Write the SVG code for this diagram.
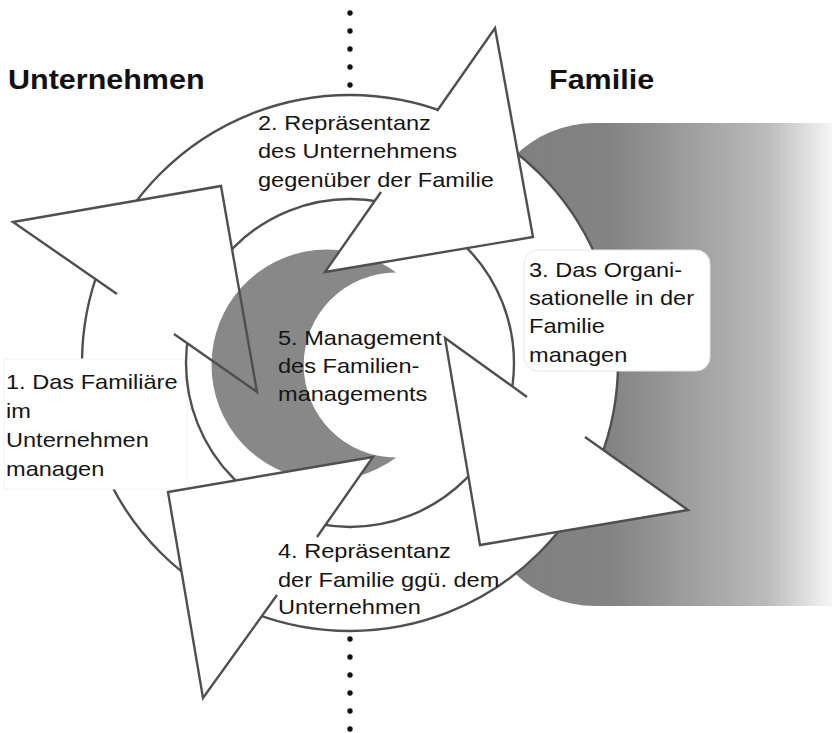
<svg xmlns="http://www.w3.org/2000/svg" width="832" height="733" viewBox="0 0 832 733">
<defs>
<linearGradient id="famGrad" gradientUnits="userSpaceOnUse" x1="520" y1="0" x2="832" y2="0">
<stop offset="0" stop-color="#808080"/>
<stop offset="0.29" stop-color="#838383"/>
<stop offset="0.73" stop-color="#b3b3b3"/>
<stop offset="0.80" stop-color="#bdbdbd"/>
<stop offset="0.93" stop-color="#e2e2e2"/>
<stop offset="1" stop-color="#f6f6f6"/>
</linearGradient>
<style>
.ln{fill:none;stroke:#4f4f4f;stroke-width:2.4;stroke-linejoin:miter;stroke-linecap:butt}
.wf{fill:#ffffff;stroke:none}
.lbl{font-family:"Liberation Sans",Arial,Helvetica,sans-serif;font-size:20.5px;fill:#151515}
.ttl{font-family:"Liberation Sans",Arial,Helvetica,sans-serif;font-size:27px;font-weight:bold;fill:#111111}
.dot{fill:#111111}
</style>
</defs>
<rect width="832" height="733" fill="#ffffff"/>

<g id="background">
<rect x="480" y="123" width="500" height="483" rx="115" ry="115" fill="url(#famGrad)"/>
<circle cx="350" cy="363" r="268" fill="#ffffff" stroke="#4f4f4f" stroke-width="2.4"/>
</g>

<g id="node-1">
<rect x="4" y="359" width="183" height="130" fill="#ffffff" stroke="#f4f4f4" stroke-width="1"/>
<text class="lbl" transform="translate(6 0) scale(1.15 1)"><tspan x="0" y="389">1. Das Familiäre</tspan><tspan x="0" y="418">im</tspan><tspan x="0" y="447">Unternehmen</tspan><tspan x="0" y="476">managen</tspan></text>
</g>

<g id="ring">
<circle cx="350" cy="363" r="164" class="ln"/>
</g>

<g id="connectors">
<polygon id="arrow-1-fill" class="wf" points="13,222 221,186 257,392"/>
</g>

<g id="node-5-shape">
<path d="M396.2,272.5 A115.5,115.5 0 1 0 396.2,457.5 A92.5,92.5 0 0 1 396.2,272.5 Z" fill="#888888"/>
</g>

<g id="connectors-heads">
<path id="arrow-1" class="ln" d="M117,294 L13,222 L221,186 L257,392 L174,334"/>
<g id="arrow-2">
<polygon class="wf" points="495,28 533,237 325,272"/>
<path class="ln" d="M437,111 L495,28 L533,237 L325,272 L381,192"/>
</g>
<g id="arrow-3">
<polygon class="wf" points="445,338 480,545 688,510"/>
<path class="ln" d="M527,397 L445,338 L480,545 L688,510 L585,437"/>
</g>
<g id="arrow-4">
<polygon class="wf" points="168,492 373,457 203,698"/>
<path class="ln" d="M317,537 L373,457 L168,492 L203,698 L277,595"/>
</g>
</g>

<g id="node-2">
<text class="lbl" transform="translate(258 0) scale(1.15 1)"><tspan x="0" y="130">2. Repräsentanz</tspan><tspan x="0" y="158.5">des Unternehmens</tspan><tspan x="0" y="187">gegenüber der Familie</tspan></text>
</g>

<g id="node-3">
<rect x="524" y="250" width="186" height="121" rx="14" ry="14" fill="#ffffff" stroke="#e6e6e6" stroke-width="1"/>
<text class="lbl" transform="translate(529 0) scale(1.15 1)"><tspan x="0" y="277">3. Das Organi-</tspan><tspan x="0" y="305">sationelle in der</tspan><tspan x="0" y="333">Familie</tspan><tspan x="0" y="362">managen</tspan></text>
</g>

<g id="node-4">
<text class="lbl" transform="translate(278 0) scale(1.15 1)"><tspan x="0" y="558">4. Repräsentanz</tspan><tspan x="0" y="587">der Familie ggü. dem</tspan><tspan x="0" y="614">Unternehmen</tspan></text>
</g>

<g id="node-5">
<text class="lbl" transform="translate(278 0) scale(1.15 1)"><tspan x="0" y="345">5. Management</tspan><tspan x="0" y="373">des Familien-</tspan><tspan x="0" y="401">managements</tspan></text>
</g>

<g id="title-unternehmen">
<text class="ttl" transform="translate(8 0) scale(1.13 1)" x="0" y="89">Unternehmen</text>
</g>
<g id="title-familie">
<text class="ttl" transform="translate(549 0) scale(1.13 1)" x="0" y="89">Familie</text>
</g>

<g id="divider">
<circle class="dot" cx="350" cy="13" r="2.7"/>
<circle class="dot" cx="350" cy="31" r="2.7"/>
<circle class="dot" cx="350" cy="49" r="2.7"/>
<circle class="dot" cx="350" cy="67" r="2.7"/>
<circle class="dot" cx="350" cy="85" r="2.7"/>
<circle class="dot" cx="350" cy="639" r="2.7"/>
<circle class="dot" cx="350" cy="657" r="2.7"/>
<circle class="dot" cx="350" cy="675" r="2.7"/>
<circle class="dot" cx="350" cy="693" r="2.7"/>
<circle class="dot" cx="350" cy="711" r="2.7"/>
<circle class="dot" cx="350" cy="729" r="2.7"/>
</g>
</svg>
